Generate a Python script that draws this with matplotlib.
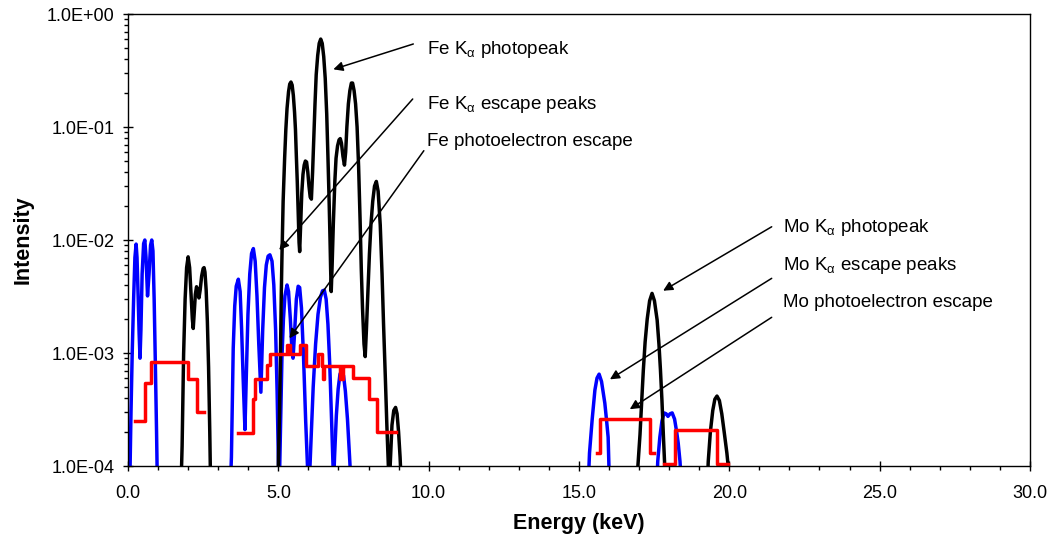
import matplotlib.pyplot as plt
import matplotlib.ticker as ticker

plt.rcParams['font.family'] = ['Liberation Sans', 'DejaVu Sans']
plt.rcParams['mathtext.fontset'] = 'custom'
plt.rcParams['mathtext.rm'] = 'Liberation Sans'
plt.rcParams['mathtext.it'] = 'Liberation Sans'  # 下标 α 用正体

# ---- black: photopeaks ----
blk1_e = [1.76, 1.80, 1.85, 1.90, 1.95, 2.00, 2.05, 2.10, 2.14, 2.17, 2.20, 2.24, 2.28,
          2.32, 2.36, 2.40, 2.45, 2.50, 2.53, 2.56, 2.60, 2.64, 2.68, 2.72, 2.75]
blk1_i = [6e-5, 1.5e-4, 9.8e-4, 3.0e-3, 5.7e-3, 7.1e-3, 5.7e-3, 3.2e-3, 2.0e-3, 1.65e-3,
          2.2e-3, 3.3e-3, 3.86e-3, 3.5e-3, 3.07e-3, 3.6e-3, 4.8e-3, 5.6e-3, 5.7e-3, 5.2e-3,
          3.6e-3, 1.9e-3, 7.5e-4, 2.0e-4, 6e-5]

blk2_e = [4.97, 5.00, 5.04, 5.07, 5.10, 5.12, 5.16, 5.21, 5.25, 5.29, 5.34, 5.38, 5.42,
          5.46, 5.50, 5.54, 5.57, 5.60, 5.63, 5.66, 5.69, 5.71, 5.74, 5.78, 5.82, 5.86,
          5.90, 5.94, 5.98, 6.02, 6.06, 6.10, 6.14, 6.18, 6.22, 6.26, 6.31, 6.36, 6.41,
          6.46, 6.51, 6.56, 6.61, 6.65, 6.69, 6.72, 6.74, 6.76, 6.79, 6.83, 6.88, 6.92,
          6.97, 7.02, 7.06, 7.10, 7.15, 7.20, 7.24, 7.28, 7.33, 7.38, 7.43, 7.47, 7.52,
          7.57, 7.62, 7.67, 7.72, 7.76, 7.80, 7.85, 7.89, 7.93, 7.98, 8.03, 8.08, 8.14,
          8.20, 8.26, 8.32, 8.39, 8.45, 8.50, 8.56, 8.61, 8.66, 8.69, 8.72, 8.78, 8.84,
          8.90, 8.95, 9.00, 9.05, 9.10]
blk2_i = [6e-5, 1.0e-4, 3.0e-4, 9e-4, 3.5e-3, 6.9e-3, 0.022, 0.053, 0.095, 0.146, 0.205,
          0.24, 0.25, 0.235, 0.19, 0.135, 0.095, 0.055, 0.033, 0.018, 0.0095, 0.0079,
          0.013, 0.026, 0.038, 0.046, 0.050, 0.049, 0.040, 0.030, 0.024, 0.023, 0.040,
          0.08, 0.16, 0.29, 0.43, 0.55, 0.60, 0.55, 0.42, 0.27, 0.13, 0.055, 0.022, 0.010,
          5.5e-3, 3.5e-3, 6e-3, 0.014, 0.033, 0.053, 0.068, 0.077, 0.079, 0.072, 0.055,
          0.046, 0.060, 0.10, 0.16, 0.21, 0.245, 0.245, 0.21, 0.16, 0.10, 0.045, 0.015,
          5.5e-3, 2.5e-3, 1.2e-3, 9.3e-4, 1.6e-3, 3.5e-3, 7.5e-3, 0.0136, 0.022, 0.030,
          0.033, 0.027, 0.0136, 5e-3, 1.8e-3, 6e-4, 2.3e-4, 1.0e-4, 6e-5, 1e-4, 2.3e-4,
          3.1e-4, 3.3e-4, 2.9e-4, 2.0e-4, 1.2e-4, 6e-5]

blk3_e = [16.93, 16.96, 17.03, 17.09, 17.14, 17.20, 17.27, 17.35, 17.43, 17.51, 17.60,
          17.66, 17.71, 17.76, 17.81, 17.86, 17.89]
blk3_i = [6e-5, 1.0e-4, 1.9e-4, 3.9e-4, 7.0e-4, 1.25e-3, 2.0e-3, 2.9e-3, 3.37e-3, 2.9e-3,
          1.96e-3, 1.2e-3, 7.1e-4, 3.8e-4, 1.8e-4, 9e-5, 6e-5]

blk4_e = [19.26, 19.30, 19.37, 19.45, 19.52, 19.59, 19.67, 19.75, 19.83, 19.92, 19.98, 20.02]
blk4_i = [6e-5, 1.1e-4, 2.0e-4, 3.1e-4, 3.9e-4, 4.16e-4, 3.8e-4, 2.9e-4, 2.0e-4, 1.3e-4,
          9e-5, 6e-5]

# ---- blue: escape peaks ----
blu1_e = [0.05, 0.07, 0.10, 0.14, 0.19, 0.23, 0.27, 0.30, 0.34, 0.37, 0.40, 0.43, 0.47,
          0.52, 0.56, 0.60, 0.65, 0.70, 0.75, 0.79, 0.83, 0.87, 0.91, 0.95, 0.98]
blu1_i = [5e-5, 1e-4, 3e-4, 1e-3, 3.2e-3, 7e-3, 9.2e-3, 7e-3, 3e-3, 1.5e-3, 9e-4, 1.6e-3,
          5e-3, 9.3e-3, 1e-2, 7e-3, 3.2e-3, 5e-3, 9e-3, 1e-2, 8e-3, 3e-3, 8e-4, 2e-4, 6e-5]

blu2_e = [3.40, 3.44, 3.50, 3.55, 3.60, 3.67, 3.73, 3.78, 3.83, 3.89, 3.94, 3.99, 4.05,
          4.11, 4.17, 4.23, 4.29, 4.35, 4.42, 4.48, 4.54, 4.60, 4.66, 4.72, 4.79, 4.85,
          4.91, 4.96, 5.00, 5.03]
blu2_i = [6e-5, 1.2e-4, 1.1e-3, 2.6e-3, 3.9e-3, 4.5e-3, 3.5e-3, 1.6e-3, 6e-4, 2.1e-4,
          7e-4, 2.2e-3, 5e-3, 7.6e-3, 8.4e-3, 6.5e-3, 3.2e-3, 1.2e-3, 4.5e-4, 1.6e-3,
          3.8e-3, 6e-3, 7.2e-3, 7.4e-3, 6.5e-3, 4e-3, 1.6e-3, 4.5e-4, 1.2e-4, 6e-5]

blu3_e = [5.03, 5.07, 5.12, 5.17, 5.22, 5.29, 5.34, 5.40, 5.45, 5.49, 5.54, 5.60, 5.66,
          5.71, 5.77, 5.84, 5.91, 5.97, 6.01]
blu3_i = [6e-5, 2e-4, 9e-4, 2e-3, 3.2e-3, 4e-3, 3.5e-3, 2e-3, 1.1e-3, 9e-4, 1.5e-3, 3e-3,
          3.9e-3, 3.8e-3, 2.5e-3, 9e-4, 2.5e-4, 1e-4, 6e-5]

blu4_e = [6.02, 6.08, 6.16, 6.24, 6.32, 6.40, 6.47, 6.53, 6.59, 6.65, 6.71, 6.77, 6.82, 6.85]
blu4_i = [6e-5, 1.5e-4, 5e-4, 1.2e-3, 2.2e-3, 3.1e-3, 3.55e-3, 3.6e-3, 3.0e-3, 1.8e-3,
          8e-4, 2.6e-4, 1e-4, 6e-5]

blu5_e = [6.83, 6.87, 6.93, 6.99, 7.05, 7.11, 7.17, 7.23, 7.30, 7.37, 7.43]
blu5_i = [6e-5, 1.2e-4, 2.8e-4, 4.8e-4, 6.5e-4, 7e-4, 6.3e-4, 4.6e-4, 2.6e-4, 1.2e-4, 6e-5]

blu6_e = [15.30, 15.35, 15.44, 15.53, 15.60, 15.67, 15.75, 15.86, 15.92, 15.97, 16.02]
blu6_i = [6e-5, 1.3e-4, 2.6e-4, 4.7e-4, 6.0e-4, 6.5e-4, 5.6e-4, 3.6e-4, 2.5e-4, 1.8e-4, 6e-5]

blu7_e = [17.58, 17.62, 17.69, 17.76, 17.83, 17.90, 17.96, 18.03, 18.10, 18.18, 18.25,
          18.30, 18.36, 18.42]
blu7_i = [6e-5, 1.1e-4, 1.8e-4, 2.5e-4, 2.95e-4, 2.9e-4, 2.75e-4, 2.9e-4, 2.95e-4, 2.6e-4,
          2.0e-4, 1.6e-4, 1.1e-4, 6e-5]

# ---- red: photoelectron escape (steps) ----
red1_e = [0.23, 0.57, 0.77, 2.01, 2.28, 2.54]
red1_i = [2.5e-4, 5.4e-4, 8.4e-4, 5.9e-4, 3.0e-4, 3.0e-4]

red2_e = [3.65, 4.17, 4.22, 4.64, 4.72, 5.30, 5.33, 5.36, 5.39, 5.42, 5.72, 5.92, 6.31,
          6.44, 6.48, 6.52, 7.05, 7.08, 7.11, 7.14, 7.17, 7.47, 8.03, 8.27, 8.91]
red2_i = [1.96e-4, 3.9e-4, 5.9e-4, 7.8e-4, 9.8e-4, 1.17e-3, 9.8e-4, 1.17e-3, 9.8e-4,
          9.8e-4, 1.17e-3, 7.7e-4, 9.8e-4, 7.7e-4, 5.9e-4, 7.7e-4, 5.9e-4, 7.7e-4, 5.9e-4,
          7.7e-4, 7.7e-4, 6.0e-4, 3.9e-4, 2.0e-4, 2.0e-4]

red3_e = [15.59, 15.70, 17.36, 17.49]
red3_i = [1.3e-4, 2.6e-4, 1.3e-4, 1.3e-4]

red4_e = [17.82, 18.19, 19.60, 19.97]
red4_i = [1.05e-4, 2.1e-4, 1.05e-4, 1.05e-4]

fig = plt.figure(figsize=(10.5, 5.39), dpi=100)
ax = fig.add_axes([0.1219, 0.1354, 0.859, 0.8386])

lw = 2.5
for e, i in [(blu1_e, blu1_i), (blu2_e, blu2_i), (blu3_e, blu3_i), (blu4_e, blu4_i),
             (blu5_e, blu5_i), (blu6_e, blu6_i), (blu7_e, blu7_i)]:
    ax.plot(e, i, color='#0000FF', lw=lw, solid_joinstyle='round')
for e, i in [(blk1_e, blk1_i), (blk2_e, blk2_i), (blk3_e, blk3_i), (blk4_e, blk4_i)]:
    ax.plot(e, i, color='black', lw=lw, solid_joinstyle='round')
for e, i in [(red1_e, red1_i), (red2_e, red2_i), (red3_e, red3_i), (red4_e, red4_i)]:
    ax.step(e, i, where='post', color='#FF0000', lw=lw)

ax.set_yscale('log')
ax.set_xlim(0, 30)
ax.set_ylim(1e-4, 1)

# 刻度
ax.xaxis.set_major_locator(ticker.MultipleLocator(5))
ax.xaxis.set_minor_locator(ticker.MultipleLocator(1))
ax.xaxis.set_major_formatter(ticker.FormatStrFormatter('%.1f'))
ax.yaxis.set_major_locator(ticker.LogLocator(base=10, numticks=10))
ax.yaxis.set_minor_locator(ticker.LogLocator(base=10, subs=range(2, 10), numticks=10))
ax.yaxis.set_major_formatter(ticker.FuncFormatter(lambda v, p: f'{v:.1E}'))
ax.yaxis.set_minor_formatter(ticker.NullFormatter())
ax.tick_params(which='major', direction='inout', length=7, width=1, labelsize=13)
ax.tick_params(which='minor', direction='out', length=3, width=1)
ax.tick_params(axis='x', which='major', pad=10)
ax.tick_params(axis='y', which='major', pad=6)
for s in ax.spines.values():
    s.set_linewidth(1)

ax.set_xlabel('Energy (keV)', fontsize=15.5, fontweight='bold', labelpad=8)
ax.set_ylabel('Intensity', fontsize=15.5, fontweight='bold', labelpad=10)

# 注释
arrows = [((9.49, 0.543), (6.83, 0.324)),
          ((9.47, 0.177), (5.03, 8.16e-3)),
          ((9.84, 0.0617), (5.37, 1.35e-3)),
          ((21.41, 0.0131), (17.80, 3.56e-3)),
          ((21.41, 4.58e-3), (16.03, 5.85e-4)),
          ((21.41, 2.07e-3), (16.69, 3.18e-4))]
for tail, tip in arrows:
    ax.annotate('', xy=tip, xytext=tail,
                arrowprops=dict(arrowstyle='-|>', color='black', lw=1.1,
                                mutation_scale=14, shrinkA=0, shrinkB=0))

labels = [(9.93, 0.44, r'Fe K$_{\alpha}$ photopeak'),
          (9.93, 0.143, r'Fe K$_{\alpha}$ escape peaks'),
          (9.93, 0.068, 'Fe photoelectron escape'),
          (21.79, 0.0118, r'Mo K$_{\alpha}$ photopeak'),
          (21.79, 5.43e-3, r'Mo K$_{\alpha}$ escape peaks'),
          (21.79, 2.54e-3, 'Mo photoelectron escape')]
for x, y, t in labels:
    ax.text(x, y, t, fontsize=13.5, ha='left', va='baseline')

plt.savefig('out.png', dpi=100)
